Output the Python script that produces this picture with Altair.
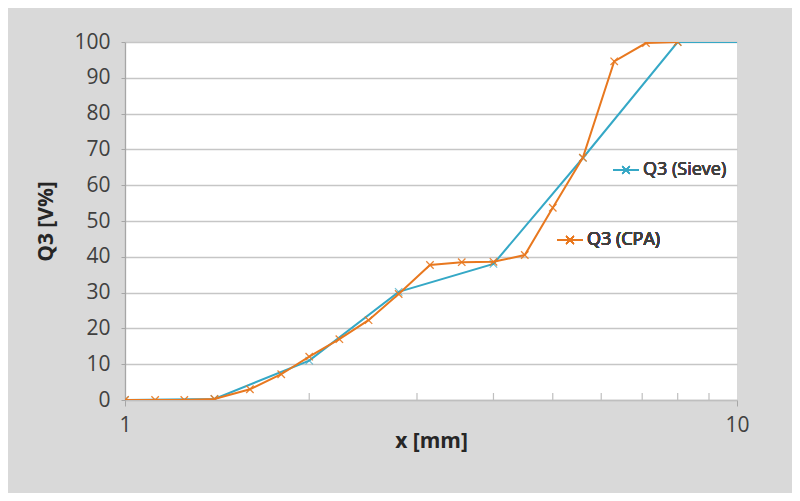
import altair as alt
import pandas as pd

# ---- data ----
cpa_x = [1.0, 1.12, 1.25, 1.4, 1.6, 1.8, 2.0, 2.24, 2.5, 2.8, 3.15, 3.55, 4.0, 4.5, 5.0, 5.6, 6.3, 7.1, 8.0]
cpa_y = [0.0, 0.0, 0.0, 0.3, 3.0, 7.2, 12.1, 17.0, 22.3, 29.6, 37.7, 38.5, 38.6, 40.5, 53.7, 67.7, 94.6, 99.7, 100.0]
sieve_x = [1.0, 1.4, 2.0, 2.8, 4.0, 5.6, 8.0, 11.2]
sieve_y = [0.0, 0.3, 11.0, 30.2, 38.0, 67.6, 100.0, 100.0]
minor_ticks = [2, 3, 4, 5, 6, 7, 8, 9]
x_labels = [1, 10]
y_ticks = list(range(0, 101, 10))

BLUE = "#35a8c6"
ORANGE = "#e8781f"
FONT = "Open Sans"
W, H = 612, 358

cpa = pd.DataFrame({"x": cpa_x, "y": cpa_y})
sieve = pd.DataFrame({"x": sieve_x, "y": sieve_y})
minor = pd.DataFrame({"x": minor_ticks})

X_SHAPE = "M-1,-1L1,1M-1,1L1,-1"

xscale = alt.Scale(type="log", domain=[1, 10], nice=False)
yscale = alt.Scale(domain=[0, 100], nice=False)

xaxis = alt.Axis(values=x_labels, format="d", grid=False, title="x [mm]",
                 labelFontSize=21, labelColor="#404040", labelFont=FONT,
                 labelPadding=8, tickSize=6, tickColor="#a6a6a6",
                 labelOverlap=False, labelFlush=False,
                 domainColor="#bfbfbf", domainWidth=1.3,
                 titleFontSize=21, titleFont=FONT, titleFontWeight="bold",
                 titleColor="#262626", titlePadding=-5)
yaxis = alt.Axis(values=y_ticks, grid=True, gridColor="#c6c6c6", gridWidth=1.3,
                 title="Q3 [V%]", labelFontSize=21, labelColor="#404040",
                 labelFont=FONT, labelPadding=11, tickSize=4, tickColor="#a6a6a6",
                 labelOverlap=False,
                 domainColor="#a6a6a6", domainWidth=1.3,
                 titleFontSize=21, titleFont=FONT, titleFontWeight="bold",
                 titleColor="#262626", titlePadding=17)

X = alt.X("x:Q", scale=xscale, axis=xaxis)
Y = alt.Y("y:Q", scale=yscale, axis=yaxis)

MS = 55

sieve_line = alt.Chart(sieve).mark_line(color=BLUE, strokeWidth=2, clip=True).encode(x=X, y=Y)
sieve_pts = alt.Chart(sieve).mark_point(shape=X_SHAPE, color=BLUE, filled=False, size=MS,
                                        strokeWidth=1.2, opacity=0.7, clip=True).encode(x=X, y=Y)
cpa_line = alt.Chart(cpa).mark_line(color=ORANGE, strokeWidth=2, clip=True).encode(x=X, y=Y)
cpa_pts = alt.Chart(cpa).mark_point(shape=X_SHAPE, color=ORANGE, filled=False, size=MS,
                                    strokeWidth=1.3, opacity=0.9, clip=True).encode(x=X, y=Y)

minor_rules = alt.Chart(minor).mark_rule(color="#bfbfbf", strokeWidth=1.2).encode(
    x=X, y=alt.value(H), y2=alt.value(H - 7))

# legend entries placed like the reference
leg_sieve_line = alt.Chart(sieve).mark_rule(color=BLUE, strokeWidth=2).encode(
    x=alt.value(488), x2=alt.value(514), y=alt.value(128))
leg_sieve_pt = alt.Chart(sieve).mark_point(shape=X_SHAPE, color=BLUE, filled=False, size=MS,
                                           strokeWidth=1.2, opacity=0.7).encode(
    x=alt.value(501), y=alt.value(128))
leg_sieve_txt = alt.Chart(sieve).mark_text(text="Q3 (Sieve)", align="left", baseline="middle",
                                           font=FONT, fontSize=18, fontWeight="normal",
                                           color="#404040").encode(
    x=alt.value(518), y=alt.value(128))
leg_cpa_line = alt.Chart(cpa).mark_rule(color=ORANGE, strokeWidth=2).encode(
    x=alt.value(432), x2=alt.value(458), y=alt.value(198))
leg_cpa_pt = alt.Chart(cpa).mark_point(shape=X_SHAPE, color=ORANGE, filled=False, size=MS,
                                       strokeWidth=1.3, opacity=0.9).encode(
    x=alt.value(445), y=alt.value(198))
leg_cpa_txt = alt.Chart(cpa).mark_text(text="Q3 (CPA)", align="left", baseline="middle",
                                       font=FONT, fontSize=18, fontWeight="normal",
                                       color="#404040").encode(
    x=alt.value(462), y=alt.value(198))

chart = alt.layer(
    sieve_line, minor_rules, sieve_pts, cpa_line, cpa_pts,
    leg_sieve_line, leg_sieve_pt, leg_sieve_txt,
    leg_cpa_line, leg_cpa_pt, leg_cpa_txt,
).properties(
    width=W, height=H,
    autosize="none",
    padding={"left": 117, "top": 34, "right": 55, "bottom": 93},
    background="#d9d9d9",
).configure_view(fill="white", stroke=None)

chart.save("out.html", embed_options={"renderer": "svg", "actions": False})
